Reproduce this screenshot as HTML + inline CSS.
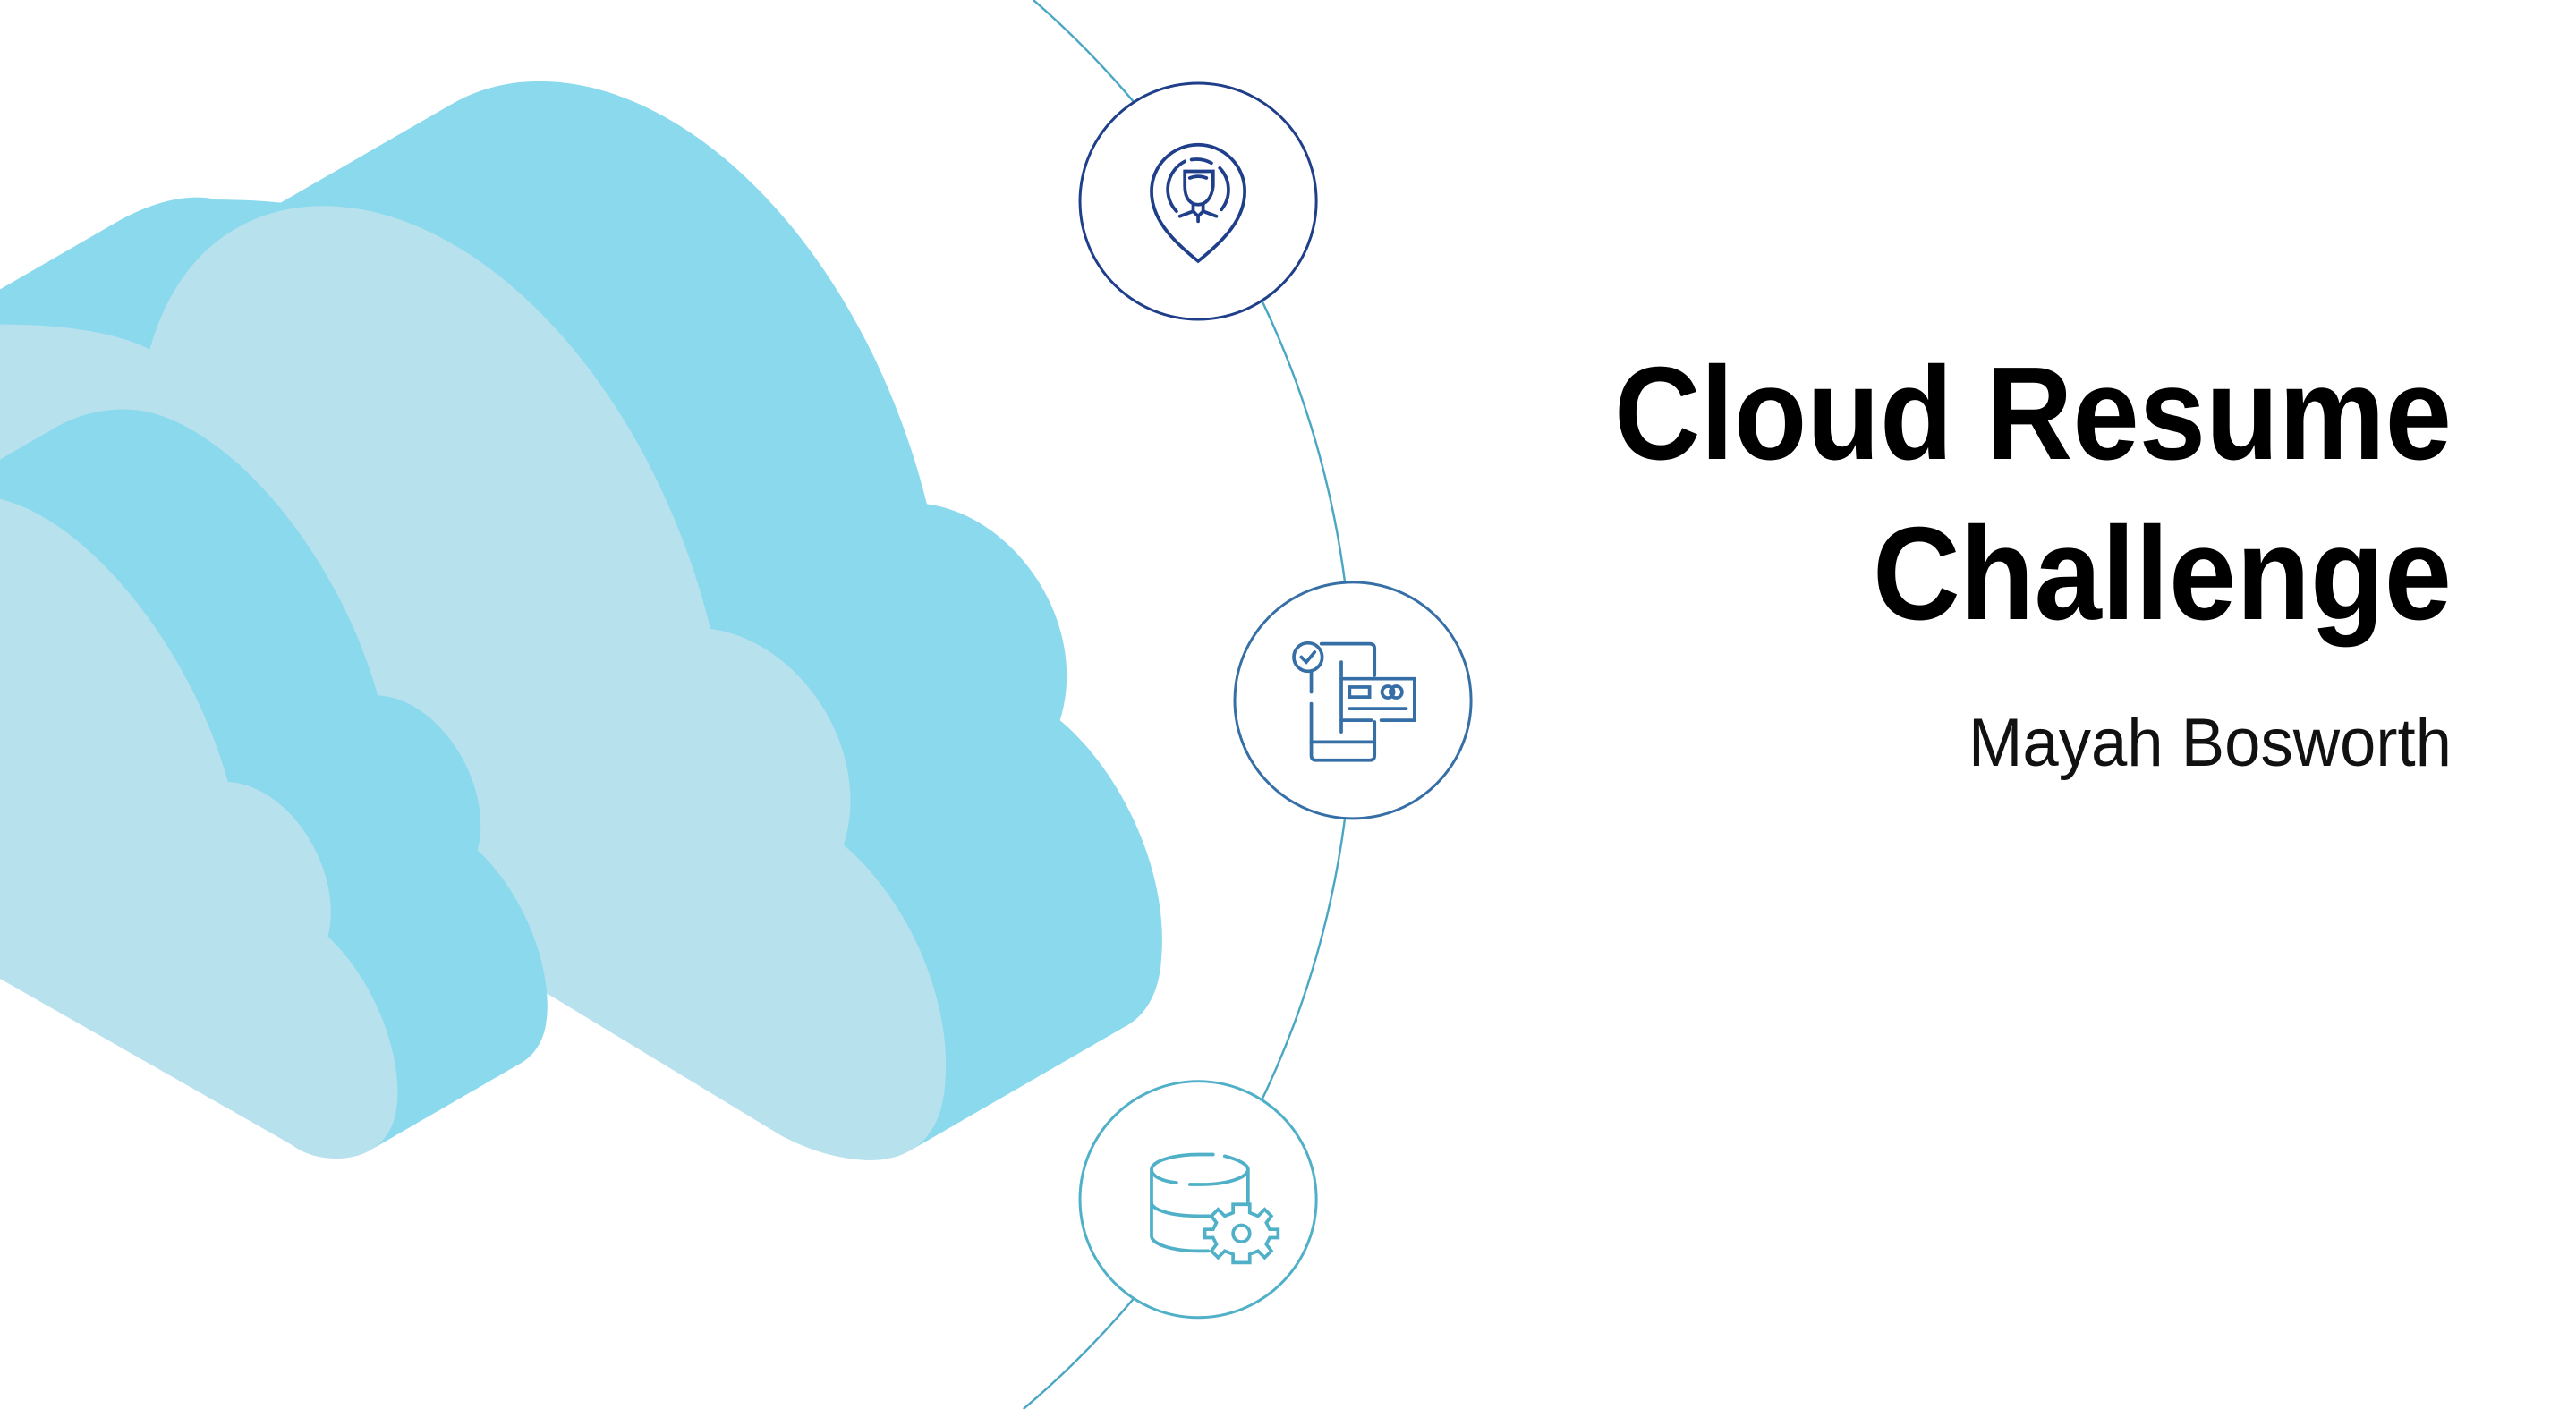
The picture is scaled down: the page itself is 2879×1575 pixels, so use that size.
<!DOCTYPE html>
<html><head><meta charset="utf-8"><style>
html,body{margin:0;padding:0;background:#fff;width:2879px;height:1575px;overflow:hidden}
body{position:relative}
svg{position:absolute;left:0;top:0;display:block}
</style></head><body>
<svg width="2879" height="1575" viewBox="0 0 1548 847" preserveAspectRatio="none">
<defs>
<clipPath id="cp"><rect x="0" y="0" width="1548" height="847"/></clipPath>
<path id="bc" d="M -150,330 C -120,230 -40,185 0,195 C 40,195 70,200 90,210 C 110,140 160,122 200,124 C 290,128 390,230 427,378 C 480,385 525,450 507,508 C 545,540 572,600 568,650 C 566,690 540,700 515,697 C 495,695 480,688 470,683 L 330,598 L 200,520 L -150,520 Z"/>
<path id="fc" d="M -120,420 C -100,330 -60,298 -15,298 C 40,298 112,380 137,470 C 175,472 207,525 197,563 C 228,592 243,640 238,668 C 234,692 212,700 190,695 C 182,693 178,690 175,688 L -120,520 Z"/>
</defs>
<g clip-path="url(#cp)">
<g fill="#8BD9EC">
<use href="#bc" transform="translate(130,-75)"/><use href="#bc" transform="translate(125,-72.12)"/><use href="#bc" transform="translate(120,-69.23)"/><use href="#bc" transform="translate(115,-66.35)"/><use href="#bc" transform="translate(110,-63.46)"/><use href="#bc" transform="translate(105,-60.58)"/><use href="#bc" transform="translate(100,-57.69)"/><use href="#bc" transform="translate(95,-54.81)"/><use href="#bc" transform="translate(90,-51.92)"/><use href="#bc" transform="translate(85,-49.04)"/><use href="#bc" transform="translate(80,-46.15)"/><use href="#bc" transform="translate(75,-43.27)"/><use href="#bc" transform="translate(70,-40.38)"/><use href="#bc" transform="translate(65,-37.5)"/><use href="#bc" transform="translate(60,-34.62)"/><use href="#bc" transform="translate(55,-31.73)"/><use href="#bc" transform="translate(50,-28.85)"/><use href="#bc" transform="translate(45,-25.96)"/><use href="#bc" transform="translate(40,-23.08)"/><use href="#bc" transform="translate(35,-20.19)"/><use href="#bc" transform="translate(30,-17.31)"/><use href="#bc" transform="translate(25,-14.42)"/><use href="#bc" transform="translate(20,-11.54)"/><use href="#bc" transform="translate(15,-8.65)"/><use href="#bc" transform="translate(10,-5.77)"/><use href="#bc" transform="translate(5,-2.88)"/>
</g>
<use href="#bc" fill="#B8E1EE"/>
<g fill="#8BD9EC">
<use href="#fc" transform="translate(90,-52)"/><use href="#fc" transform="translate(85.5,-49.4)"/><use href="#fc" transform="translate(81,-46.8)"/><use href="#fc" transform="translate(76.5,-44.2)"/><use href="#fc" transform="translate(72,-41.6)"/><use href="#fc" transform="translate(67.5,-39)"/><use href="#fc" transform="translate(63,-36.4)"/><use href="#fc" transform="translate(58.5,-33.8)"/><use href="#fc" transform="translate(54,-31.2)"/><use href="#fc" transform="translate(49.5,-28.6)"/><use href="#fc" transform="translate(45,-26)"/><use href="#fc" transform="translate(40.5,-23.4)"/><use href="#fc" transform="translate(36,-20.8)"/><use href="#fc" transform="translate(31.5,-18.2)"/><use href="#fc" transform="translate(27,-15.6)"/><use href="#fc" transform="translate(22.5,-13)"/><use href="#fc" transform="translate(18,-10.4)"/><use href="#fc" transform="translate(13.5,-7.8)"/><use href="#fc" transform="translate(9,-5.2)"/><use href="#fc" transform="translate(4.5,-2.6)"/>
</g>
<use href="#fc" fill="#B8E1EE"/>
</g>

<path d="M 621,0 A 558 558 0 0 1 615,847" fill="none" stroke="#4aa7c3" stroke-width="1.3"/>

<circle cx="720" cy="121" r="71" fill="#fff" stroke="#1f3f8a" stroke-width="1.6"/>
<g fill="none" stroke="#1f3f8a" stroke-width="2" stroke-linecap="round">
<path d="M 720,157 C 705,145 692,132 692,115 A 28 28 0 1 1 748,115 C 748,132 735,145 720,157 Z"/>
<path d="M 707,127 A 19 19 0 0 1 712,97"/><path d="M 716,96 A 19 19 0 0 1 728,98"/><path d="M 733,101 A 19 19 0 0 1 734,126"/>
<path d="M 712,103 L 729,103 L 729,112 C 728,120 724,123 720,123 C 716,123 712,120 712,112 Z"/>
<path d="M 715,107 Q 720,105 725,107"/>
<path d="M 717,123 L 717,127 L 709,130"/><path d="M 723,123 L 723,127 L 731,130"/>
<path d="M 717,127 L 720,130 L 723,127 M 720,130 L 720,133"/>
</g>

<circle cx="813" cy="421" r="71" fill="#fff" stroke="#356fa6" stroke-width="1.6"/>
<g fill="none" stroke="#356fa6" stroke-width="2" stroke-linecap="round">
<path d="M 794,387 L 823,387 Q 826,387 826,390 L 826,406"/>
<path d="M 826,434 L 826,454 Q 826,457 823,457 L 791,457 Q 788,457 788,454 L 788,423"/>
<path d="M 788,404 L 788,416"/>
<path d="M 788,446 L 826,446"/>
<circle cx="786" cy="395" r="8.5"/>
<path d="M 782,395 L 785,398 L 790,392"/>
<path d="M 806,398 L 806,440"/>
<path d="M 806,408 L 850,408 L 850,433 L 830,433 M 824,433 L 806,433"/>
<rect x="811" y="413" width="12" height="6"/>
<circle cx="834" cy="416" r="3.5"/><circle cx="839" cy="416" r="3.5"/>
<path d="M 811,426 L 845,426"/>
</g>

<circle cx="720" cy="721" r="71" fill="#fff" stroke="#4fb0c8" stroke-width="1.6"/>
<g fill="none" stroke="#4fb0c8" stroke-width="2" stroke-linecap="round">
<path d="M 736,695 C 744,697 750,700 750,703 C 750,708 737,712 722,712 L 715,712"/>
<path d="M 707,711 C 698,710 692,707 692,703 C 692,698 705,694 721,694 L 729,694"/>
<path d="M 692,703 L 692,743 C 692,748 705,752 720,752 L 726,752"/>
<path d="M 750,703 L 750,723"/>
<path d="M 692,723 C 692,727 703,731 720,731 L 728,731"/>
<path d="M 741,724 L 751,724 L 751,729 L 756,731 L 760,727 L 764,731 L 761,735 L 763,739 L 768,739 L 768,744 L 763,744 L 761,748 L 764,752 L 760,756 L 756,752 L 751,754 L 751,759 L 741,759 L 741,754 L 736,752 L 732,756 L 728,752 L 731,748 L 729,744 L 724,744 L 724,739 L 729,739 L 731,735 L 728,731 L 732,727 L 736,731 L 741,729 Z"/>
<circle cx="746" cy="741.5" r="5"/>
</g>
</svg>
<svg width="2879" height="1575" viewBox="0 0 2879 1575">
<text x="2740" y="513" text-anchor="end" font-family="Liberation Sans, sans-serif" font-weight="bold" font-size="148" textLength="936" lengthAdjust="spacingAndGlyphs" fill="#000">Cloud Resume</text>
<text x="2740" y="692" text-anchor="end" font-family="Liberation Sans, sans-serif" font-weight="bold" font-size="148" textLength="647" lengthAdjust="spacingAndGlyphs" fill="#000">Challenge</text>
<text x="2740" y="856" text-anchor="end" font-family="Liberation Sans, sans-serif" font-size="76" textLength="540" lengthAdjust="spacingAndGlyphs" fill="#111">Mayah Bosworth</text>
</svg>
</body></html>
